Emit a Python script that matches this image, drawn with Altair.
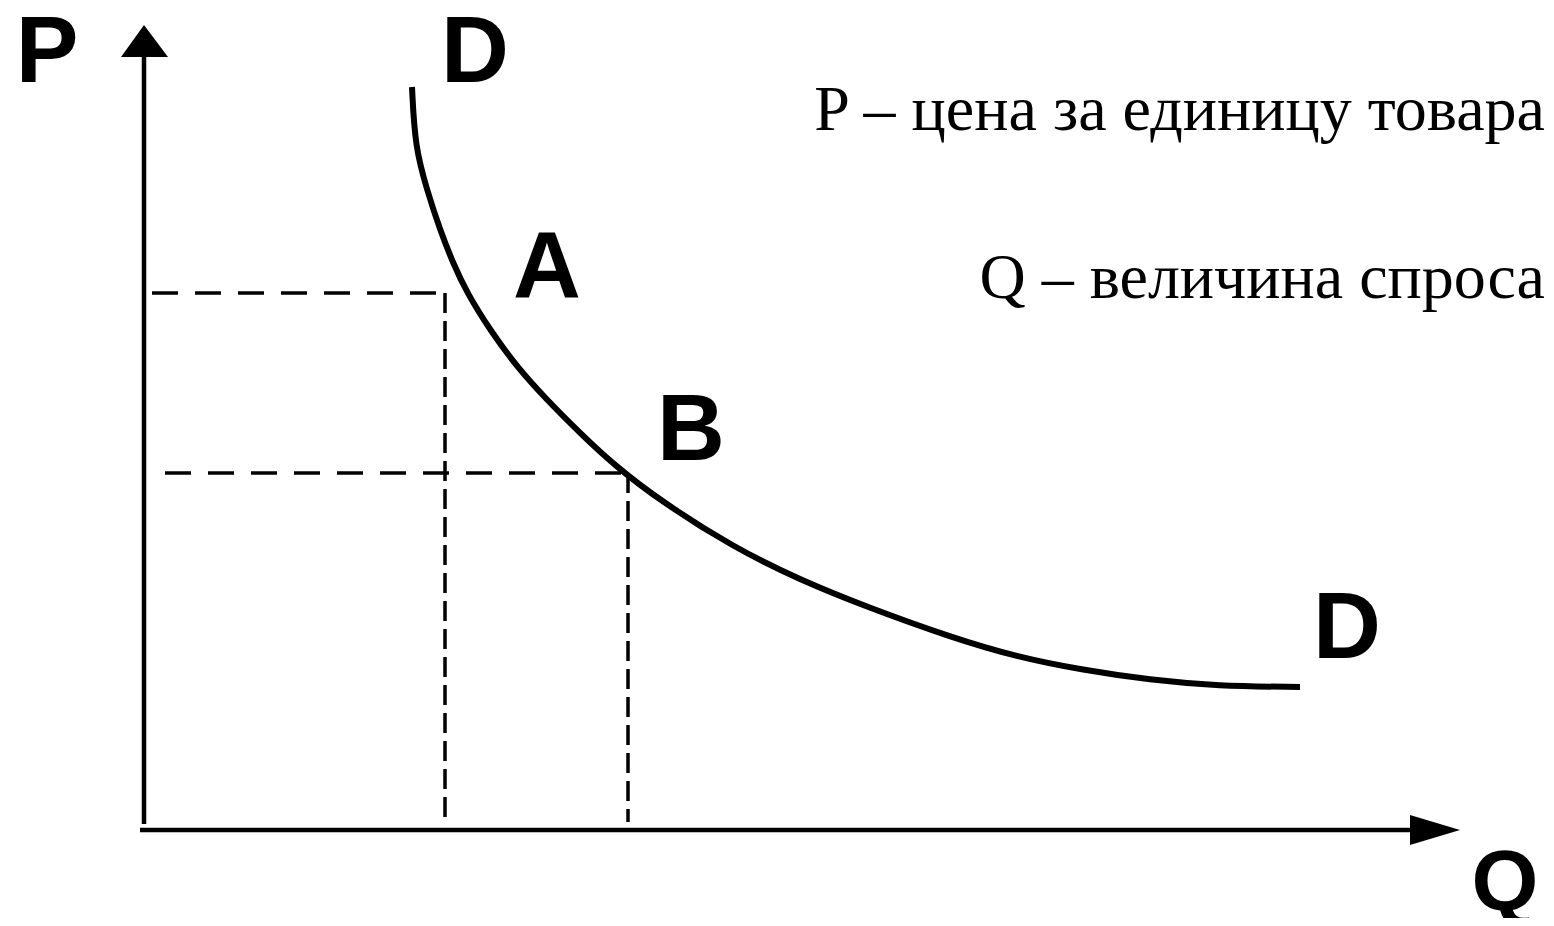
import altair as alt
import pandas as pd

# Demand curve D-D (Q = quantity demanded, P = price), units arbitrary
curve_q = [2.68, 2.71, 2.83, 2.96, 3.09, 3.23, 3.46, 3.73, 4.03, 4.36, 4.70, 5.18,
           5.89, 6.56, 7.23, 8.06, 8.73, 9.39, 10.06, 10.73, 11.56]
curve_p = [7.43, 6.83, 6.40, 6.00, 5.67, 5.37, 5.00, 4.63, 4.30, 3.97, 3.65, 3.28,
           2.83, 2.50, 2.23, 1.93, 1.73, 1.60, 1.50, 1.44, 1.43]

# Points A and B (dashed projections)
point_names = ["A", "B"]
point_q = [3.01, 4.84]
point_p = [5.37, 3.57]
hline_start_q = [0.08, 0.21]
vline_end_p = [0.08, 0.08]

# Bold letter labels
label_text = ["P", "D", "A", "B", "D"]
label_q = [-0.97, 3.31, 4.03, 5.47, 12.03]
label_p = [7.48, 7.48, 5.32, 3.70, 1.72]

# Q-axis name
qname_text = ["Q"]
qname_q = [13.61]
qname_p = [-0.80]

# Legend text
legend_text = ["P – цена за единицу товара", "Q – величина спроса"]
legend_q = [14.01, 14.01]
legend_p = [7.00, 5.32]

# Axes extents
axis_p_top = 7.73
axis_q_right = 12.66

xs = alt.Scale(domain=[-1.36, 14.02], nice=False, zero=False)
ys = alt.Scale(domain=[-0.88, 8.22], nice=False, zero=False)


def X(f):
    return alt.X(f, type="quantitative", scale=xs, axis=None)


def Y(f):
    return alt.Y(f, type="quantitative", scale=ys, axis=None)


curve_df = pd.DataFrame({"q": curve_q, "p": curve_p})
curve = alt.Chart(curve_df).mark_line(
    color="black", strokeWidth=6, interpolate="basis", strokeCap="butt"
).encode(x=X("q"), y=Y("p"), order="q:Q")

h_df = pd.DataFrame({"q0": hline_start_q, "q1": point_q, "p": point_p})
hdash = alt.Chart(h_df).mark_rule(
    color="black", strokeWidth=3.5, strokeDash=[26, 17]
).encode(x=X("q0"), x2="q1", y=Y("p"))

v_df = pd.DataFrame({"q": point_q, "p0": point_p, "p1": vline_end_p})
vdash = alt.Chart(v_df).mark_rule(
    color="black", strokeWidth=3.5, strokeDash=[20, 8]
).encode(x=X("q"), y=Y("p0"), y2="p1")

# axes lines
vax = alt.Chart(pd.DataFrame({"q": [0.0], "p0": [0.06], "p1": [axis_p_top]})).mark_rule(
    color="black", strokeWidth=4.5
).encode(x=X("q"), y=Y("p0"), y2="p1")
hax = alt.Chart(pd.DataFrame({"q0": [-0.04], "q1": [axis_q_right], "p": [0.0]})).mark_rule(
    color="black", strokeWidth=4.5
).encode(x=X("q0"), x2="q1", y=Y("p"))

# arrowheads (triangles drawn as areas)
up_df = pd.DataFrame({"q": [-0.23, 0.0, 0.24], "p": [axis_p_top, 8.05, axis_p_top],
                      "base": [axis_p_top] * 3})
up_arrow = alt.Chart(up_df).mark_area(color="black", interpolate="linear").encode(
    x=X("q"), y=Y("p"), y2="base"
)
right_df = pd.DataFrame({"q": [axis_q_right, 13.16], "top": [0.15, 0.0],
                         "bottom": [-0.15, 0.0]})
right_arrow = alt.Chart(right_df).mark_area(
    color="black", interpolate="linear"
).encode(x=X("q"), y=Y("top"), y2="bottom")

lab_df = pd.DataFrame({"t": label_text, "q": label_q, "p": label_p})
labels = alt.Chart(lab_df).mark_text(
    font="Liberation Sans", fontWeight="bold", fontSize=94, align="center",
    baseline="alphabetic", color="black"
).encode(x=X("q"), y=Y("p"), text="t:N")

qn_df = pd.DataFrame({"t": qname_text, "q": qname_q, "p": qname_p})
qname = alt.Chart(qn_df).mark_text(
    font="Liberation Sans", fontWeight="bold", fontSize=86, align="center",
    baseline="alphabetic", color="black"
).encode(x=X("q"), y=Y("p"), text="t:N")

leg_df = pd.DataFrame({"t": legend_text, "q": legend_q, "p": legend_p})
legend = alt.Chart(leg_df).mark_text(
    font="Liberation Serif", fontSize=64, align="right", baseline="alphabetic",
    color="black"
).encode(x=X("q"), y=Y("p"), text="t:N")

chart = alt.layer(
    hdash, vdash, vax, hax, up_arrow, right_arrow, curve, labels, qname, legend
).properties(
    width=1538, height=910, padding=0,
    autosize=alt.AutoSizeParams(type="none"),
    background="white",
).configure_view(stroke=None)

chart.save("out.html", embed_options={"renderer": "svg", "actions": False})
